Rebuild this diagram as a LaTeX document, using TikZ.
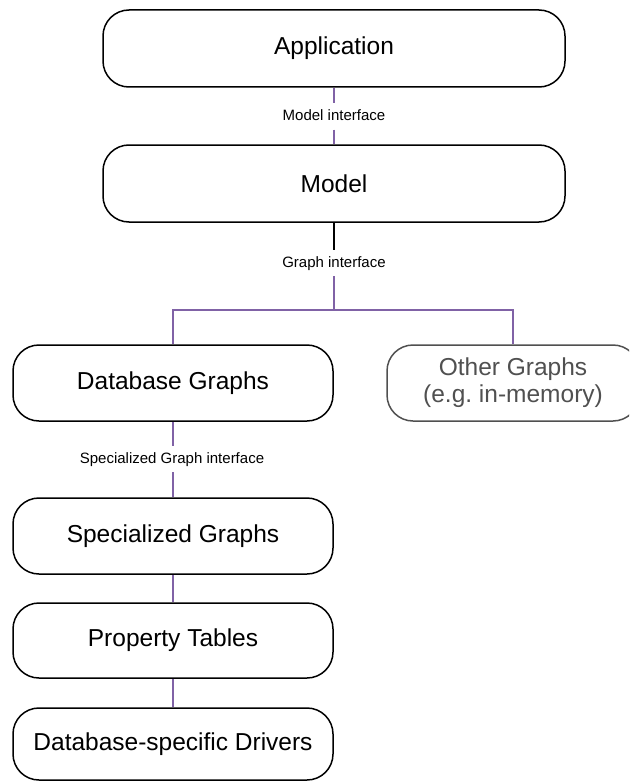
\documentclass[tikz,border=0pt]{standalone}
\usepackage{fontspec}
\setmainfont{Liberation Sans}
\frenchspacing
\definecolor{lnk}{RGB}{128,98,166}
\definecolor{othergray}{RGB}{80,80,80}
\begin{document}
\begin{tikzpicture}[x=1pt,y=-1pt,
  box/.style={draw=black, line width=1.5pt, rounded corners=26pt, font=\fontsize{24.5}{27}\selectfont, align=center, inner sep=0pt},
  lbl/.style={font=\fontsize{15}{18}\selectfont, text height=11pt, text depth=3pt, inner xsep=2pt, inner ysep=6pt},
  link/.style={draw=lnk, line width=1.6pt},
  plain/.style={draw=black, line width=1.6pt}]
\useasboundingbox (0,0) rectangle (629,781);
\clip (0,0) rectangle (629,781);
\node[box, minimum width=462pt, minimum height=77pt] (app) at (334,48.5) {Application};
\node[box, minimum width=462pt, minimum height=77pt] (model) at (334,183.5) {Model};
\node[box, minimum width=320pt, minimum height=76pt] (db) at (173,383) {Database Graphs};
\node[box, draw=othergray, text=othergray, minimum width=252pt, minimum height=76pt] (other) at (513,383) {Other Graphs\\(e.g. in-memory)};
\node[box, minimum width=320pt, minimum height=76pt] (spec) at (173,536) {Specialized Graphs};
\node[box, minimum width=320pt, minimum height=75pt] (prop) at (173,640.5) {Property Tables};
\node[box, minimum width=320pt, minimum height=72pt] (drv) at (173,744) {Database-specific Drivers};
\node[lbl] (mi) at (334,116.5) {Model interface};
\node[lbl] (gi) at (334,263) {Graph interface};
\node[lbl] (si) at (172,459) {Specialized Graph interface};
\coordinate (br) at (334,310);
\draw[link] (app.south) -- (mi.north);
\draw[link] (mi.south) -- (model.north);
\draw[plain] (model.south) -- (gi.north);
\draw[link] (gi.south) -- (br);
\draw[link] (db.north) -- (db.north |- br) -- (other.north |- br) -- (other.north);
\draw[link] (db.south) -- (db.south |- si.north);
\draw[link] (db.south |- si.south) -- (spec.north);
\draw[link] (spec.south) -- (prop.north);
\draw[link] (prop.south) -- (drv.north);
\end{tikzpicture}
\end{document}
